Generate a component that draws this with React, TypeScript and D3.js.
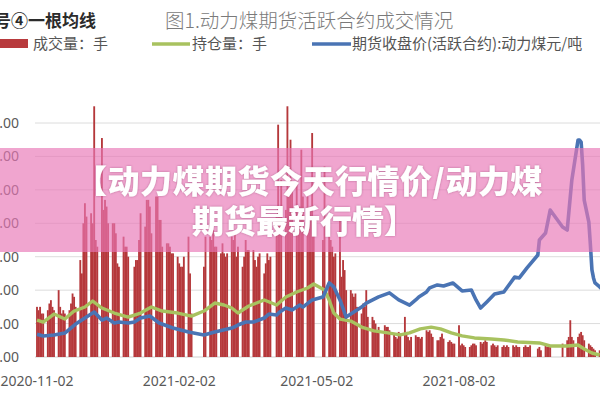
import React from "react";
import * as d3 from "d3";

// 期货收盘价(活跃合约) 元/吨
const priceData: [string, number][] = [
  ["2020-11-02", 600], ["2020-11-06", 587], ["2020-11-13", 594], ["2020-11-20", 608],
  ["2020-11-27", 671], ["2020-12-04", 720], ["2020-12-09", 755], ["2020-12-14", 699],
  ["2020-12-17", 713], ["2020-12-22", 678], ["2020-12-25", 685], ["2020-12-31", 678],
  ["2021-01-04", 685], ["2021-01-08", 713], ["2021-01-14", 727], ["2021-01-20", 678],
  ["2021-01-29", 643], ["2021-02-08", 615], ["2021-02-18", 594], ["2021-02-25", 615],
  ["2021-03-08", 643], ["2021-03-12", 664], ["2021-03-17", 685], ["2021-03-22", 685],
  ["2021-03-29", 713], ["2021-04-01", 741], ["2021-04-06", 734], ["2021-04-08", 755],
  ["2021-04-12", 783], ["2021-04-16", 769], ["2021-04-21", 804], ["2021-04-23", 790],
  ["2021-04-29", 840], ["2021-05-06", 861], ["2021-05-10", 959], ["2021-05-13", 931],
  ["2021-05-17", 840], ["2021-05-21", 720], ["2021-05-25", 748], ["2021-05-31", 790],
  ["2021-06-03", 818], ["2021-06-11", 861], ["2021-06-18", 889], ["2021-06-24", 840],
  ["2021-07-01", 804], ["2021-07-05", 840], ["2021-07-07", 861], ["2021-07-12", 896],
  ["2021-07-14", 924], ["2021-07-19", 945], ["2021-07-23", 938], ["2021-07-29", 959],
  ["2021-08-04", 903], ["2021-08-10", 910], ["2021-08-13", 840], ["2021-08-16", 783],
  ["2021-08-20", 826], ["2021-08-25", 882], ["2021-08-31", 896], ["2021-09-07", 1000],
  ["2021-09-10", 994], ["2021-09-15", 1064], ["2021-09-22", 1155], ["2021-09-23", 1260],
  ["2021-09-27", 1309], ["2021-09-30", 1470], ["2021-10-08", 1351], ["2021-10-11", 1330],
  ["2021-10-14", 1681], ["2021-10-18", 1961], ["2021-10-19", 1961], ["2021-10-20", 1947],
  ["2021-10-21", 1785], ["2021-10-22", 1540], ["2021-10-25", 1386], ["2021-10-26", 1225],
  ["2021-10-27", 1050], ["2021-10-28", 994], ["2021-10-29", 959], ["2021-11-01", 931],
  ["2021-11-03", 910],
];

// 持仓量 (万手)
const holdData: [string, number][] = [
  ["2020-11-02", 22.1], ["2020-11-06", 20.9], ["2020-11-13", 25.7], ["2020-11-20", 22.7],
  ["2020-11-26", 27.5], ["2020-12-03", 29.9], ["2020-12-08", 33.5], ["2020-12-14", 29.3],
  ["2020-12-22", 26.3], ["2020-12-31", 23.9], ["2021-01-08", 26.3], ["2021-01-15", 29.9],
  ["2021-01-22", 27.5], ["2021-02-01", 26.3], ["2021-02-10", 24.5], ["2021-02-18", 27.5],
  ["2021-02-25", 32.3], ["2021-03-03", 31.1], ["2021-03-08", 29.3], ["2021-03-12", 26.3],
  ["2021-03-19", 30.5], ["2021-03-29", 34.1], ["2021-04-06", 31.1], ["2021-04-12", 35.9],
  ["2021-04-19", 38.9], ["2021-04-26", 41.3], ["2021-04-30", 43.7], ["2021-05-07", 40.1],
  ["2021-05-10", 34.1], ["2021-05-13", 26.3], ["2021-05-17", 22.7], ["2021-05-24", 21.5],
  ["2021-05-31", 17.9], ["2021-06-08", 15.6], ["2021-06-17", 14.4], ["2021-06-25", 13.2],
  ["2021-07-01", 14.4], ["2021-07-08", 16.8], ["2021-07-15", 17.9], ["2021-07-21", 16.8],
  ["2021-07-28", 14.4], ["2021-08-04", 12.6], ["2021-08-12", 11.4], ["2021-08-23", 10.8],
  ["2021-08-31", 10.2], ["2021-09-09", 9.0], ["2021-09-23", 8.4], ["2021-09-30", 6.6],
  ["2021-10-11", 6.6], ["2021-10-18", 7.2], ["2021-10-22", 4.8], ["2021-10-27", 2.4],
  ["2021-11-01", 1.2],
];

// 成交量 (万手), one row per week, Mon..Fri, null = 休市
const volumeWeeks: [string, (number | null)[]][] = [
  ["2020-11-02", [30, 28, 30, 26, 26]],
  ["2020-11-09", [28, 32, 34, 30, 28]],
  ["2020-11-16", [40, 30, 26, 28, 26]],
  ["2020-11-23", [28, 32, 38, 36, 30]],
  ["2020-11-30", [58, 50, 80, 92, 84]],
  ["2020-12-07", [86, 80, 150, 70, 66]],
  ["2020-12-14", [131, 88, 94, 90, 80]],
  ["2020-12-21", [80, 80, 74, 56, 54]],
  ["2020-12-28", [72, 66, 66, 60, null]],
  ["2021-01-04", [54, 58, 58, 70, 86]],
  ["2021-01-11", [78, 94, 94, 90, 74]],
  ["2021-01-18", [96, 96, 82, 82, 66]],
  ["2021-01-25", [68, 68, 66, 62, 62]],
  ["2021-02-01", [60, 56, 54, 54, 60]],
  ["2021-02-08", [72, 50, 26, null, null]],
  ["2021-02-15", [null, null, null, 54, 72]],
  ["2021-02-22", [72, 70, 76, 66, 66]],
  ["2021-03-01", [62, 68, 62, 60, 62]],
  ["2021-03-08", [72, 70, 74, 60, 66]],
  ["2021-03-15", [54, 60, 70, 64, 64]],
  ["2021-03-22", [64, 58, 54, 60, 62]],
  ["2021-03-29", [50, 56, 62, 58, 60]],
  ["2021-04-05", [null, 84, 139, 90, 106]],
  ["2021-04-12", [88, 150, 96, 130, 104]],
  ["2021-04-19", [104, 78, 90, 124, 96]],
  ["2021-04-26", [96, 88, 90, 134, 84]],
  ["2021-05-03", [null, null, null, 70, 114]],
  ["2021-05-10", [78, 70, 66, 60, 62]],
  ["2021-05-17", [82, 48, 58, 52, 40]],
  ["2021-05-24", [40, 38, 36, 38, 30]],
  ["2021-05-31", [26, 32, 30, 40, 24]],
  ["2021-06-07", [24, 22, 20, 16, 18]],
  ["2021-06-14", [null, 19, 18, 18, 16]],
  ["2021-06-21", [14, 12, 11, 15, 14]],
  ["2021-06-28", [24, 14, 12, 10, 12]],
  ["2021-07-05", [13, 12, 12, 11, 12]],
  ["2021-07-12", [16, 15, 16, 14, 12]],
  ["2021-07-19", [10, 10, 12, 14, 11]],
  ["2021-07-26", [9, 10, 9, 8, 8]],
  ["2021-08-02", [19, 7, 8, 7, 6]],
  ["2021-08-09", [6, 7, 8, 8, 7]],
  ["2021-08-16", [9, 8, 9, 10, 9]],
  ["2021-08-23", [7, 8, 7, 6, 7]],
  ["2021-08-30", [6, 7, 6, 7, 6]],
  ["2021-09-06", [7, 6, 7, 6, 6]],
  ["2021-09-13", [6, 7, 6, 6, 7]],
  ["2021-09-20", [null, null, 5, 6, 4]],
  ["2021-09-27", [7, 6, 6, 6, null]],
  ["2021-10-04", [null, null, null, null, 8]],
  ["2021-10-11", [10, 12, 22, 12, 10]],
  ["2021-10-18", [12, 14, 15, 13, 10]],
  ["2021-10-25", [8, 7, 6, 5, 4]],
  ["2021-11-01", [4, 4, 4, 4, 4]],
];

const yTicks = [0, 20, 40, 60, 80, 100, 120, 140];
const xTicks = ["2020-11-02", "2021-02-02", "2021-05-02", "2021-08-02"];

const parse = d3.utcParse("%Y-%m-%d");
const numFont = "'Noto Sans', 'Liberation Sans', sans-serif";
const cjkFont = "'Noto Sans CJK SC', sans-serif";

export default function App() {
  const x = d3
    .scaleUtc()
    .domain([parse("2020-11-02")!, parse("2021-08-02")!])
    .range([37, 459]);
  const yL = d3.scaleLinear().domain([0, 140]).range([357, 123]);
  const yR = d3.scaleLinear().domain([440, 2080]).range([357, 123]);

  const bars = volumeWeeks.flatMap(([wk, vals]) =>
    vals
      .map((v, i) => (v == null ? null : { d: d3.utcDay.offset(parse(wk)!, i), v }))
      .filter((b) => b !== null)
  ) as { d: Date; v: number }[];
  const dayW = x(parse("2020-11-03")!) - x(parse("2020-11-02")!);
  const barW = dayW * 1.2;

  const priceLine = d3
    .line<[string, number]>()
    .x((d) => x(parse(d[0])!))
    .y((d) => yR(d[1]));
  const holdLine = d3
    .line<[string, number]>()
    .x((d) => x(parse(d[0])!))
    .y((d) => yL(d[1]));

  const fmt = d3.format(".2f");

  return (
    <svg
      width={600}
      height={400}
      style={{ position: "absolute", left: 0, top: 0, background: "#fff" }}
    >
      <defs>
        <filter id="ts" x="-5%" y="-20%" width="110%" height="140%">
          <feDropShadow dx="0" dy="0" stdDeviation="1.2" floodColor="#8a3a66" floodOpacity="0.55" />
        </filter>
      </defs>
      <rect width={600} height={400} fill="#fff" />

      {/* header */}
      <text x={-6} y={27} fontFamily={cjkFont} fontSize={17} fontWeight={700} fill="#2b2b2b">
        号④一根均线
      </text>
      <text x={165} y={28} fontFamily={cjkFont} fontSize={19.5} fontWeight={300} fill="#7a7a7a">
        图1.动力煤期货活跃合约成交情况
      </text>

      {/* legend */}
      <rect x={-4} y={39} width={32} height={9} fill="#b83a3d" />
      <text x={33} y={49} fontFamily={cjkFont} fontSize={15} fill="#555">成交量：手</text>
      <line x1={152} x2={190} y1={44} y2={44} stroke="#a8c25f" strokeWidth={3.5} />
      <text x={192} y={49} fontFamily={cjkFont} fontSize={15} fill="#555">持仓量：手</text>
      <line x1={312} x2={351} y1={44} y2={44} stroke="#4a74b4" strokeWidth={3.5} />
      <text x={352} y={49} fontFamily={cjkFont} fontSize={15} fill="#555">
        期货收盘价(活跃合约):动力煤元/吨
      </text>

      {/* grid + y labels */}
      {yTicks.map((t) => (
        <g key={t}>
          <line x1={35} x2={600} y1={yL(t)} y2={yL(t)} stroke={t === 0 ? "#cfcfcf" : "#dcdcdc"} strokeWidth={1} />
          <text x={19} y={yL(t) + 5} textAnchor="end" fontFamily={numFont} fontSize={14} fill="#595959">
            {fmt(t)}
          </text>
        </g>
      ))}

      {/* volume bars */}
      <g fill="#b5383b">
        {bars.map((b, i) => (
          <rect
            key={i}
            x={x(b.d) - barW / 2}
            y={yL(b.v)}
            width={barW}
            height={yL(0) - yL(b.v)}
          />
        ))}
      </g>

      {/* lines */}
      <path d={holdLine(holdData)!} fill="none" stroke="#a8c25f" strokeWidth={3.4} strokeLinejoin="round" />
      <path d={priceLine(priceData)!} fill="none" stroke="#4a74b4" strokeWidth={3.6} strokeLinejoin="round" />

      {/* x labels */}
      {xTicks.map((t) => (
        <text
          key={t}
          x={x(parse(t)!)}
          y={386}
          textAnchor="middle"
          fontFamily={numFont}
          fontSize={14}
          fill="#595959"
        >
          {t}
        </text>
      ))}

      {/* pink banner */}
      <rect x={0} y={148} width={600} height={104} fill="rgb(232,118,182)" fillOpacity={0.66} />
      <g filter="url(#ts)" fontFamily={cjkFont} fontWeight={900} fontSize={32} fill="#fff" textAnchor="middle">
        <text x={309} y={193} letterSpacing={0.5}>【动力煤期货今天行情价/动力煤</text>
        <text x={304} y={233}>期货最新行情】</text>
      </g>
    </svg>
  );
}
